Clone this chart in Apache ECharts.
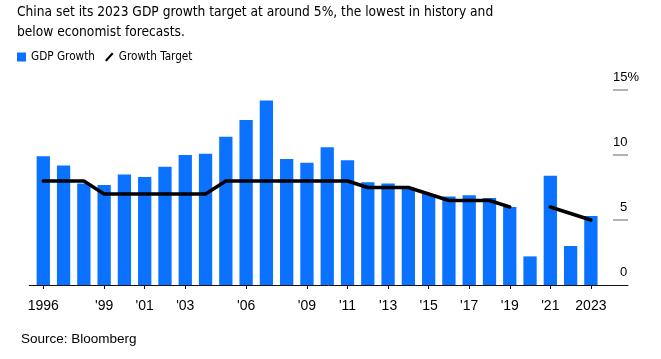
<!DOCTYPE html>
<html>
<head>
<meta charset="utf-8">
<script src="https://cdn.jsdelivr.net/npm/echarts@6/dist/echarts.min.js"></script>
<style>
html,body{margin:0;padding:0;background:#fff;}
#chart{width:661px;height:359px;}
</style>
</head>
<body>
<div id="chart"></div>
<script>
var years = [1996,1997,1998,1999,2000,2001,2002,2003,2004,2005,2006,2007,2008,2009,2010,2011,2012,2013,2014,2015,2016,2017,2018,2019,2020,2021,2022,2023];
var gdpGrowth = [9.9,9.2,7.8,7.7,8.5,8.3,9.1,10.0,10.1,11.4,12.7,14.2,9.7,9.4,10.6,9.6,7.9,7.8,7.4,7.0,6.8,6.9,6.7,6.0,2.2,8.4,3.0,5.3];
var growthTarget = [8,8,8,7,7,7,7,7,7,8,8,8,8,8,8,8,7.5,7.5,7.5,7,6.5,6.5,6.5,6,null,6,5.5,5];
var tickYears = [1996,1999,2001,2003,2006,2009,2011,2013,2015,2017,2019,2021,2023];
var tickLabels = ['1996',"'99","'01","'03","'06","'09","'11","'13","'15","'17","'19","'21",'2023'];

var titleLine1 = 'China set its 2023 GDP growth target at around 5%, the lowest in history and';
var titleLine2 = 'below economist forecasts.';

var sans = "'Liberation Sans', Arial, sans-serif";

// pick a condensed face if installed, then size the text to the reference width
var ctx = document.createElement('canvas').getContext('2d');
function has(fam) {
  ctx.font = '20px monospace'; var a = ctx.measureText('abcdefghijklmnopqrstuvwxyz0123456789').width;
  ctx.font = '20px "' + fam + '", monospace'; var b = ctx.measureText('abcdefghijklmnopqrstuvwxyz0123456789').width;
  return a !== b;
}
var narrowFam = sans;
var cands = ['Liberation Sans Narrow', 'Arial Narrow', 'DejaVu Sans Condensed', 'Roboto Condensed'];
for (var k = 0; k < cands.length; k++) { if (has(cands[k])) { narrowFam = "'" + cands[k] + "', " + sans; break; } }
function fit(text, fam, target) { ctx.font = '20px ' + fam; return 20 * target / ctx.measureText(text).width; }
var titleSize = Math.min(17, fit(titleLine1, narrowFam, 477));
var legendSize = Math.min(14.5, fit('GDP Growth', narrowFam, 64));

var chart = echarts.init(document.getElementById('chart'), null, {renderer:'canvas'});
chart.setOption({
  animation: false,
  backgroundColor: '#fff',
  title: [
    {text: titleLine1 + '\n' + titleLine2,
     left: 17, top: 2, padding: 0,
     textStyle: {fontFamily: narrowFam, fontSize: titleSize, fontWeight: 'normal', lineHeight: 20, color: '#000'}},
    {text: 'Source: Bloomberg', left: 21, top: 332, padding: 0,
     textStyle: {fontFamily: sans, fontSize: 13.5, fontWeight: 'normal', color: '#000'}}
  ],
  legend: {
    left: 17, top: 51, padding: 0, itemGap: 10, itemWidth: 9, itemHeight: 9,
    textStyle: {fontFamily: narrowFam, fontSize: legendSize, color: '#000'},
    data: [
      {name: 'GDP Growth', icon: 'rect'},
      {name: 'Growth Target', icon: 'path://M0,9 L8,0 L10,1.4 L2,10.4 Z'}
    ]
  },
  grid: {left: 29.3, right: 33, top: 90, bottom: 74, containLabel: false},
  xAxis: {
    type: 'value', min: 1995.31, max: 2024.83,
    splitLine: {show: false},
    axisLine: {show: true, lineStyle: {color: '#111', width: 1}},
    axisTick: {show: true, length: 4, lineStyle: {color: '#111'}, customValues: tickYears},
    axisLabel: {
      customValues: tickYears, margin: 14,
      fontFamily: sans, fontSize: 14, color: '#000',
      formatter: function (v) { var i = tickYears.indexOf(Math.round(v)); return i >= 0 ? tickLabels[i] : ''; }
    }
  },
  yAxis: {
    type: 'value', position: 'right', min: 0, max: 15, interval: 5,
    splitLine: {show: false},
    axisLine: {show: false},
    axisTick: {show: true, inside: true, length: 15, lineStyle: {color: '#999', width: 1.5}, customValues: [5,10,15]},
    axisLabel: {
      inside: false, margin: -15, align: 'left', verticalAlign: 'bottom', padding: [0,0,6,0],
      fontFamily: sans, fontSize: 13, color: '#000',
      formatter: function (v) {
        var s = String(v);
        if (v === 15) return '{n|15%}';
        return s.length === 1 ? '{s|' + s + '}' : '{n|' + s + '}';
      },
      rich: {
        n: {fontFamily: sans, fontSize: 13, color: '#000'},
        s: {fontFamily: sans, fontSize: 13, color: '#000', padding: [0,0,0,7]}
      }
    }
  },
  series: [
    {name: 'GDP Growth', type: 'bar', barWidth: 13.3, itemStyle: {color: '#0a72ff'},
     data: years.map(function (y, i) { return [y, gdpGrowth[i]]; })},
    {name: 'Growth Target', type: 'line', showSymbol: false, symbol: 'none', connectNulls: false,
     itemStyle: {color: '#000'}, lineStyle: {color: '#000', width: 3.5, join: 'round', cap: 'round'},
     data: years.map(function (y, i) { return [y, growthTarget[i]]; }), z: 3}
  ]
});
</script>
</body>
</html>
